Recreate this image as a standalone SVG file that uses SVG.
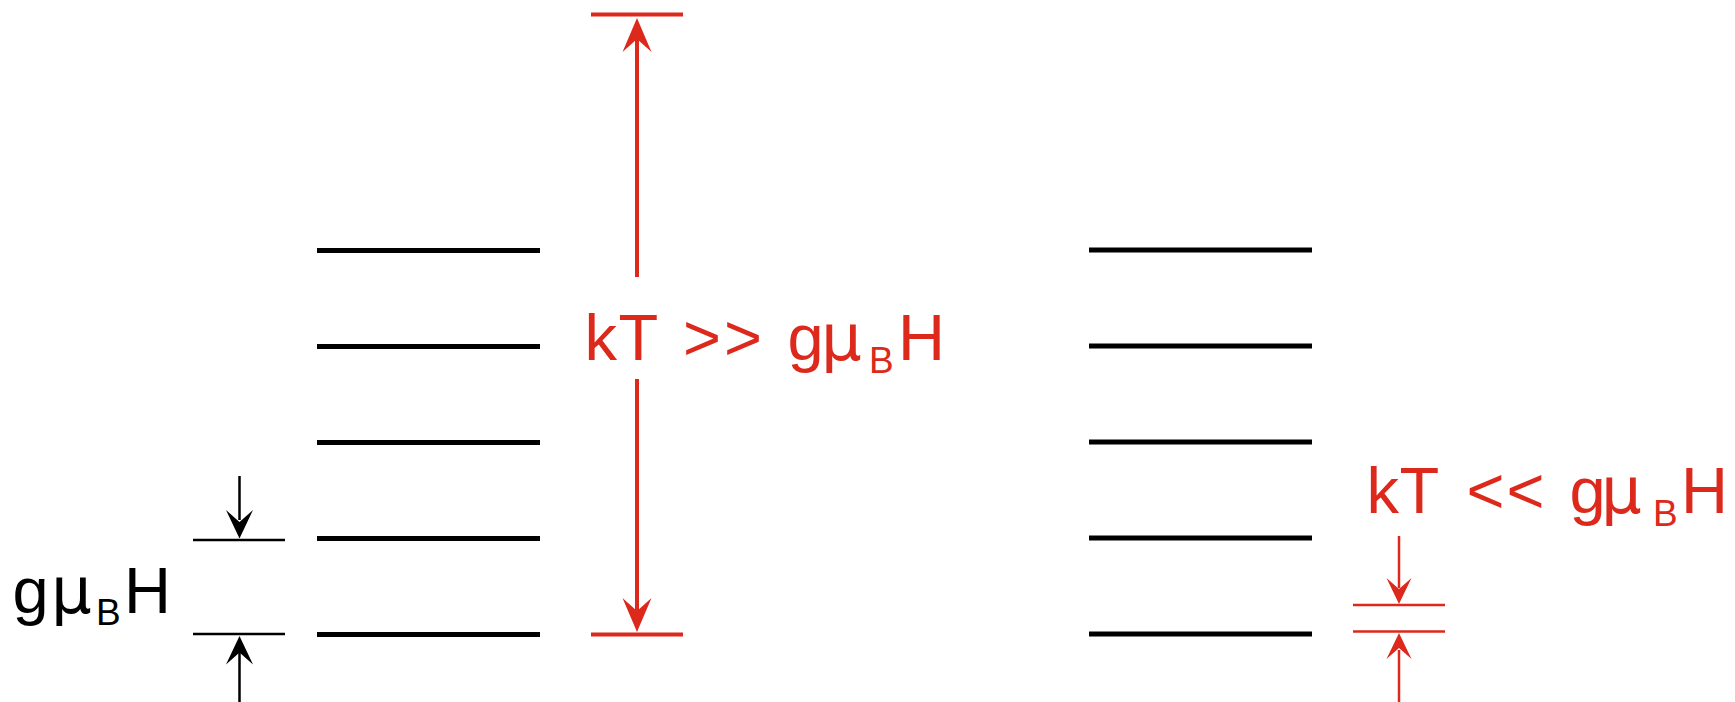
<svg xmlns="http://www.w3.org/2000/svg" width="1735" height="702" viewBox="0 0 1735 702">
<style>
.lvl{stroke:#000;stroke-width:5;fill:none}
.tickb{stroke:#000;stroke-width:2.5;fill:none}
.lineb{stroke:#000;stroke-width:2.5;fill:none}
.headb{fill:#000}
.barr{stroke:#DC291C;stroke-width:4;fill:none}
.tickr{stroke:#DC291C;stroke-width:2.5;fill:none}
.liner{stroke:#DC291C;stroke-width:4;fill:none}
.liner2{stroke:#DC291C;stroke-width:2.5;fill:none}
.headr{fill:#DC291C}
.lbl{font-family:"Liberation Sans",Arial,sans-serif;font-size:65px}
.sub{font-size:37px}
.mu{font-family:"DejaVu Sans","Liberation Sans",sans-serif;font-size:64px}
.red{fill:#DC291C}
</style>
<rect width="1735" height="702" fill="#fff"/>
<g id="levels-left">
<line class="lvl" x1="317" y1="250.5" x2="540" y2="250.5"/>
<line class="lvl" x1="317" y1="346.5" x2="540" y2="346.5"/>
<line class="lvl" x1="317" y1="442.5" x2="540" y2="442.5"/>
<line class="lvl" x1="317" y1="538.5" x2="540" y2="538.5"/>
<line class="lvl" x1="317" y1="634.5" x2="540" y2="634.5"/>
</g>
<g id="levels-right">
<line class="lvl" x1="1089" y1="250" x2="1312" y2="250"/>
<line class="lvl" x1="1089" y1="346" x2="1312" y2="346"/>
<line class="lvl" x1="1089" y1="442" x2="1312" y2="442"/>
<line class="lvl" x1="1089" y1="538" x2="1312" y2="538"/>
<line class="lvl" x1="1089" y1="634" x2="1312" y2="634"/>
</g>
<g id="label-left">
<text class="lbl" y="613"><tspan x="12.5">g</tspan><tspan class="mu" x="51">μ</tspan><tspan class="sub" x="96" y="625">B</tspan><tspan x="124" y="613">H</tspan></text>
</g>
<g id="label-high">
<text class="lbl red" y="360"><tspan x="584.5">k</tspan><tspan x="618.5">T</tspan><tspan x="683">&gt;</tspan><tspan x="724">&gt;</tspan><tspan x="787.5">g</tspan><tspan class="mu" x="821">μ</tspan><tspan class="sub" x="869" y="373">B</tspan><tspan x="898" y="360">H</tspan></text>
</g>
<g id="label-low">
<text class="lbl red" y="512.5"><tspan x="1366.5">k</tspan><tspan x="1399.5">T</tspan><tspan x="1466.5">&lt;</tspan><tspan x="1506.5">&lt;</tspan><tspan x="1569.5">g</tspan><tspan class="mu" x="1601">μ</tspan><tspan class="sub" x="1653" y="525.5">B</tspan><tspan x="1681" y="512.5">H</tspan></text>
</g>
<g id="connectors">
<line class="tickb" x1="193" y1="540" x2="285" y2="540"/>
<line class="tickb" x1="193" y1="634" x2="285" y2="634"/>
<line class="lineb" x1="239.5" y1="476" x2="239.5" y2="520"/>
<path class="headb" d="M239.5,538.5 L226,510 L239.5,522 L253,510 Z"/>
<line class="lineb" x1="239.5" y1="652" x2="239.5" y2="702"/>
<path class="headb" d="M239.5,636 L226,664.5 L239.5,652.5 L253,664.5 Z"/>
<line class="barr" x1="591" y1="14.5" x2="683" y2="14.5"/>
<line class="barr" x1="591" y1="634.5" x2="683" y2="634.5"/>
<line class="liner" x1="637" y1="36" x2="637" y2="277"/>
<line class="liner" x1="637" y1="379" x2="637" y2="614"/>
<path class="headr" d="M637,18 L622.5,52 L637,39 L651.5,52 Z"/>
<path class="headr" d="M637,632 L622.5,598 L637,611 L651.5,598 Z"/>
<line class="tickr" x1="1353" y1="605" x2="1445" y2="605"/>
<line class="tickr" x1="1353" y1="631.5" x2="1445" y2="631.5"/>
<line class="liner2" x1="1399" y1="536" x2="1399" y2="588"/>
<path class="headr" d="M1399,604 L1386.5,578 L1399,589 L1411.5,578 Z"/>
<line class="liner2" x1="1399" y1="650" x2="1399" y2="702"/>
<path class="headr" d="M1399,633 L1386.5,659 L1399,648 L1411.5,659 Z"/>
</g>
</svg>
